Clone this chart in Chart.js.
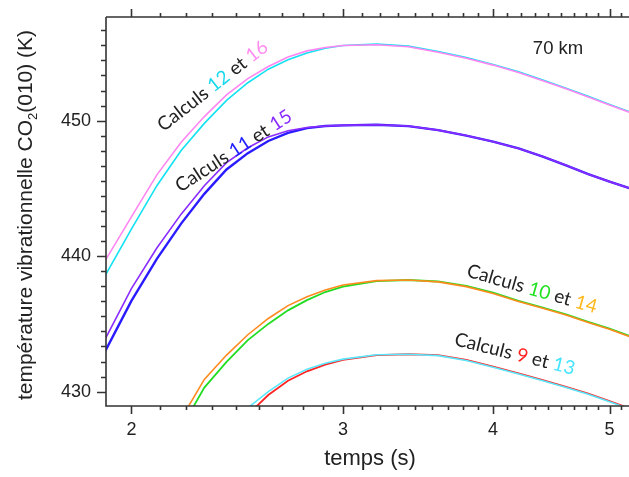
<!DOCTYPE html>
<html>
<head>
<meta charset="utf-8">
<script src="https://cdn.jsdelivr.net/npm/chart.js@4/dist/chart.umd.min.js"></script>
<style>
  html, body { margin:0; padding:0; background:#fff; }
  #wrap { width:629px; height:477px; }
</style>
</head>
<body>
<div id="wrap"><canvas id="tvChart" width="629" height="477"></canvas></div>
<script>
/* -------- DATA -------- */
// temps (s)
const T_HIGH = [1.9, 2.0, 2.1, 2.2, 2.3, 2.4, 2.5, 2.6, 2.7, 2.8, 2.9, 3.0, 3.2, 3.4, 3.6, 3.8, 4.0, 4.2, 4.4, 4.6, 4.8, 5.0, 5.2];
const T_MID  = [2.2, 2.3, 2.4, 2.5, 2.6, 2.7, 2.8, 2.9, 3.0, 3.2, 3.4, 3.6, 3.8, 4.0, 4.2, 4.4, 4.6, 4.8, 5.0, 5.2];
const T_LOW  = [2.5, 2.6, 2.7, 2.8, 2.9, 3.0, 3.2, 3.4, 3.6, 3.8, 4.0, 4.2, 4.4, 4.6, 4.8, 5.0, 5.2];

// température vibrationnelle CO2(010) (K)
const CALC_16 = [439.6, 442.9, 446.0, 448.4, 450.3, 451.9, 453.1, 454.0, 454.7, 455.15, 455.4, 455.55, 455.6, 455.45, 455.05, 454.6, 454.1, 453.55, 452.95, 452.35, 451.75, 451.15, 450.6];
const CALC_12 = [438.5, 442.0, 445.2, 447.8, 449.8, 451.5, 452.8, 453.8, 454.5, 455.0, 455.35, 455.55, 455.65, 455.5, 455.1, 454.65, 454.15, 453.6, 453.0, 452.4, 451.8, 451.2, 450.65];
const CALC_15 = [433.8, 437.6, 440.6, 443.1, 445.2, 446.9, 448.0, 448.8, 449.25, 449.5, 449.6, 449.65, 449.7, 449.6, 449.3, 448.9, 448.45, 447.95, 447.35, 446.7, 446.05, 445.5, 445.0];
const CALC_11 = [432.9, 436.7, 439.8, 442.4, 444.6, 446.4, 447.6, 448.5, 449.1, 449.45, 449.6, 449.65, 449.7, 449.6, 449.3, 448.9, 448.45, 447.95, 447.35, 446.7, 446.05, 445.5, 445.0];
const CALC_14 = [428.0, 430.9, 432.7, 434.2, 435.4, 436.35, 437.0, 437.5, 437.87, 438.19, 438.24, 438.1, 437.75, 437.25, 436.65, 436.15, 435.65, 435.1, 434.6, 434.05];
const CALC_10 = [427.3, 430.3, 432.2, 433.8, 435.0, 436.0, 436.75, 437.35, 437.75, 438.15, 438.24, 438.13, 437.8, 437.3, 436.7, 436.2, 435.7, 435.15, 434.65, 434.1];
const CALC_9  = [428.3, 429.75, 430.8, 431.5, 432.0, 432.35, 432.7, 432.76, 432.7, 432.35, 431.84, 431.35, 430.85, 430.35, 429.85, 429.3, 428.75];
const CALC_13 = [428.8, 430.0, 431.0, 431.65, 432.1, 432.4, 432.72, 432.76, 432.66, 432.3, 431.8, 431.3, 430.8, 430.3, 429.8, 429.25, 428.7];

// axis ticks: majors, and 9 sub-divisions per major interval (as on the original axes)
const X_MAJOR = [2, 3, 4, 5];
const Y_MAJOR = [430, 440, 450];

/* -------- helpers -------- */
const pts = (xs, ys) => xs.map((x, i) => ({x: x, y: ys[i]}));
const isMajor = (v, majors) => majors.some(m => Math.abs(v - m) < 1e-6);

const X_MIN = 1.905, X_MAX = 5.19;
const Y_MIN = 428.94, Y_MAX = 457.65;

// x: sub-ticks of 1/9 inside each unit interval
let xTicks = [];
for(let m = 1; m <= 5; m++){
  for(let k = 0; k < 9; k++){
    let v = m + k / 9;
    if(v >= X_MIN && v <= X_MAX) xTicks.push(+v.toFixed(6));
  }
}
// y: sub-ticks of 10/9 K
let yTicks = [];
for(let k = -2; k < 40; k++){
  let v = 430 + k * 10 / 9;
  if(v >= Y_MIN && v <= Y_MAX) yTicks.push(+v.toFixed(6));
}

const FONT = "'Liberation Sans', Arial, sans-serif";
const LABEL_FONT = "Lato, 'Open Sans', sans-serif";
const INK = "#222";

/* -------- text labels (anchored in data units) -------- */
const curveLabels = [
  {x:2.337, y:452.56, angle:-38, parts:[["Calculs ",INK],["12","#18d8ec"],[" et ",INK],["16","#ff8cf0"]]},
  {x:2.433, y:447.76, angle:-33, parts:[["Calculs ",INK],["11","#2020ff"],[" et ",INK],["15","#8a2cff"]]},
  {x:4.31,  y:437.58, angle:16,  parts:[["Calculs ",INK],["10","#22e022"],[" et ",INK],["14","#ffb81c"]]},
  {x:4.17,  y:432.78, angle:14,  parts:[["Calculs ",INK],["9","#ff2020"],[" et ",INK],["13","#44e4ff"]]}
];

const decorations = {
  id:'decorations',
  afterDraw(chart){
    const {ctx, chartArea:a, scales:{x, y}} = chart;
    ctx.save();

    // frame lines + outward tick marks
    ctx.strokeStyle = "#333";
    ctx.lineWidth = 1.6;
    ctx.beginPath();
    ctx.moveTo(a.left, a.top); ctx.lineTo(a.left, a.bottom); ctx.lineTo(chart.width, a.bottom);
    ctx.moveTo(a.left, a.top); ctx.lineTo(chart.width, a.top);
    x.ticks.forEach(t => {
      let px = Math.round(x.getPixelForValue(t.value)) + 0.5;
      let len = isMajor(t.value, X_MAJOR) ? 8 : 4;
      ctx.moveTo(px, a.bottom); ctx.lineTo(px, a.bottom + len);
      ctx.moveTo(px, a.top);    ctx.lineTo(px, a.top - len);
    });
    y.ticks.forEach(t => {
      let py = Math.round(y.getPixelForValue(t.value)) + 0.5;
      let len = isMajor(t.value, Y_MAJOR) ? 9 : 5;
      ctx.moveTo(a.left, py); ctx.lineTo(a.left - len, py);
    });
    ctx.stroke();

    // axis titles
    ctx.fillStyle = INK;
    ctx.textBaseline = "middle";
    ctx.textAlign = "center";
    ctx.font = "22px " + FONT;
    ctx.fillText("temps (s)", 370, 459);

    ctx.save();
    ctx.translate(26, 215);
    ctx.rotate(-Math.PI / 2);
    ctx.textAlign = "left";
    let big = "21px " + FONT, small = "13px " + FONT;
    ctx.font = big;  let w1 = ctx.measureText("température vibrationnelle CO").width;
    let w3 = ctx.measureText("(010) (K)").width;
    ctx.font = small; let w2 = ctx.measureText("2").width;
    let sx = -(w1 + w2 + w3) / 2;
    ctx.font = big;  ctx.fillText("température vibrationnelle CO", sx, 0);
    ctx.font = small; ctx.fillText("2", sx + w1, 7);
    ctx.font = big;  ctx.fillText("(010) (K)", sx + w1 + w2, 0);
    ctx.restore();

    // altitude tag
    ctx.font = "18.5px " + FONT;
    ctx.fillText("70 km", x.getPixelForValue(4.53), y.getPixelForValue(455.29));

    // curve labels
    curveLabels.forEach(l => {
      ctx.save();
      ctx.translate(x.getPixelForValue(l.x), y.getPixelForValue(l.y));
      ctx.rotate(l.angle * Math.PI / 180);
      ctx.font = "19px " + LABEL_FONT;
      let total = l.parts.reduce((s, p) => s + ctx.measureText(p[0]).width, 0);
      let cx = -total / 2;
      ctx.textAlign = "left";
      l.parts.forEach(p => {
        ctx.fillStyle = p[1];
        ctx.fillText(p[0], cx, 0);
        cx += ctx.measureText(p[0]).width;
      });
      ctx.restore();
    });

    ctx.restore();
  }
};

function line(label, xs, ys, color, width){
  return {
    label: label,
    data: pts(xs, ys),
    borderColor: color,
    backgroundColor: color,
    borderWidth: width || 1.6,
    pointRadius: 0,
    tension: 0,
    fill: false
  };
}

new Chart(document.getElementById("tvChart"), {
  type: "line",
  data: {
    // first dataset ends up on top
    datasets: [
      line("Calcul 16", T_HIGH, CALC_16, "#ff86f2"),
      line("Calcul 12", T_HIGH, CALC_12, "#14e2f2"),
      line("Calcul 15", T_HIGH, CALC_15, "#8a2cff"),
      line("Calcul 11", T_HIGH, CALC_11, "#2a1cff", 2.4),
      line("Calcul 14", T_MID, CALC_14, "#ff8a1e"),
      line("Calcul 10", T_MID, CALC_10, "#22dd22", 1.8),
      line("Calcul 13", T_LOW, CALC_13, "#5ae8ff"),
      line("Calcul 9",  T_LOW, CALC_9,  "#ff2424", 1.8)
    ]
  },
  options: {
    responsive: false,
    animation: false,
    layout: { padding: { top: 17, right: 0, left: 0, bottom: 0 } },
    plugins: { legend: { display: false }, tooltip: { enabled: false } },
    scales: {
      x: {
        type: "logarithmic",
        min: X_MIN, max: X_MAX,
        afterBuildTicks: s => { s.ticks = xTicks.map(v => ({value: v})); },
        afterFit: s => { s.height = 71; s.paddingLeft = 0; s.paddingRight = 0; },
        grid: { display: false, drawTicks: false },
        border: { display: false },
        ticks: {
          autoSkip: false, maxRotation: 0, padding: 13,
          color: INK, font: { family: FONT, size: 18 },
          callback: v => isMajor(v, X_MAJOR) ? String(Math.round(v)) : ""
        }
      },
      y: {
        type: "linear",
        min: Y_MIN, max: Y_MAX,
        afterBuildTicks: s => { s.ticks = yTicks.map(v => ({value: v})); },
        afterFit: s => { s.width = 106; s.paddingTop = 0; s.paddingBottom = 0; },
        grid: { display: false, drawTicks: false },
        border: { display: false },
        ticks: {
          autoSkip: false, padding: 15,
          color: INK, font: { family: FONT, size: 18 },
          callback: v => isMajor(v, Y_MAJOR) ? String(Math.round(v)) : ""
        }
      }
    }
  },
  plugins: [decorations]
});
</script>
</body>
</html>
